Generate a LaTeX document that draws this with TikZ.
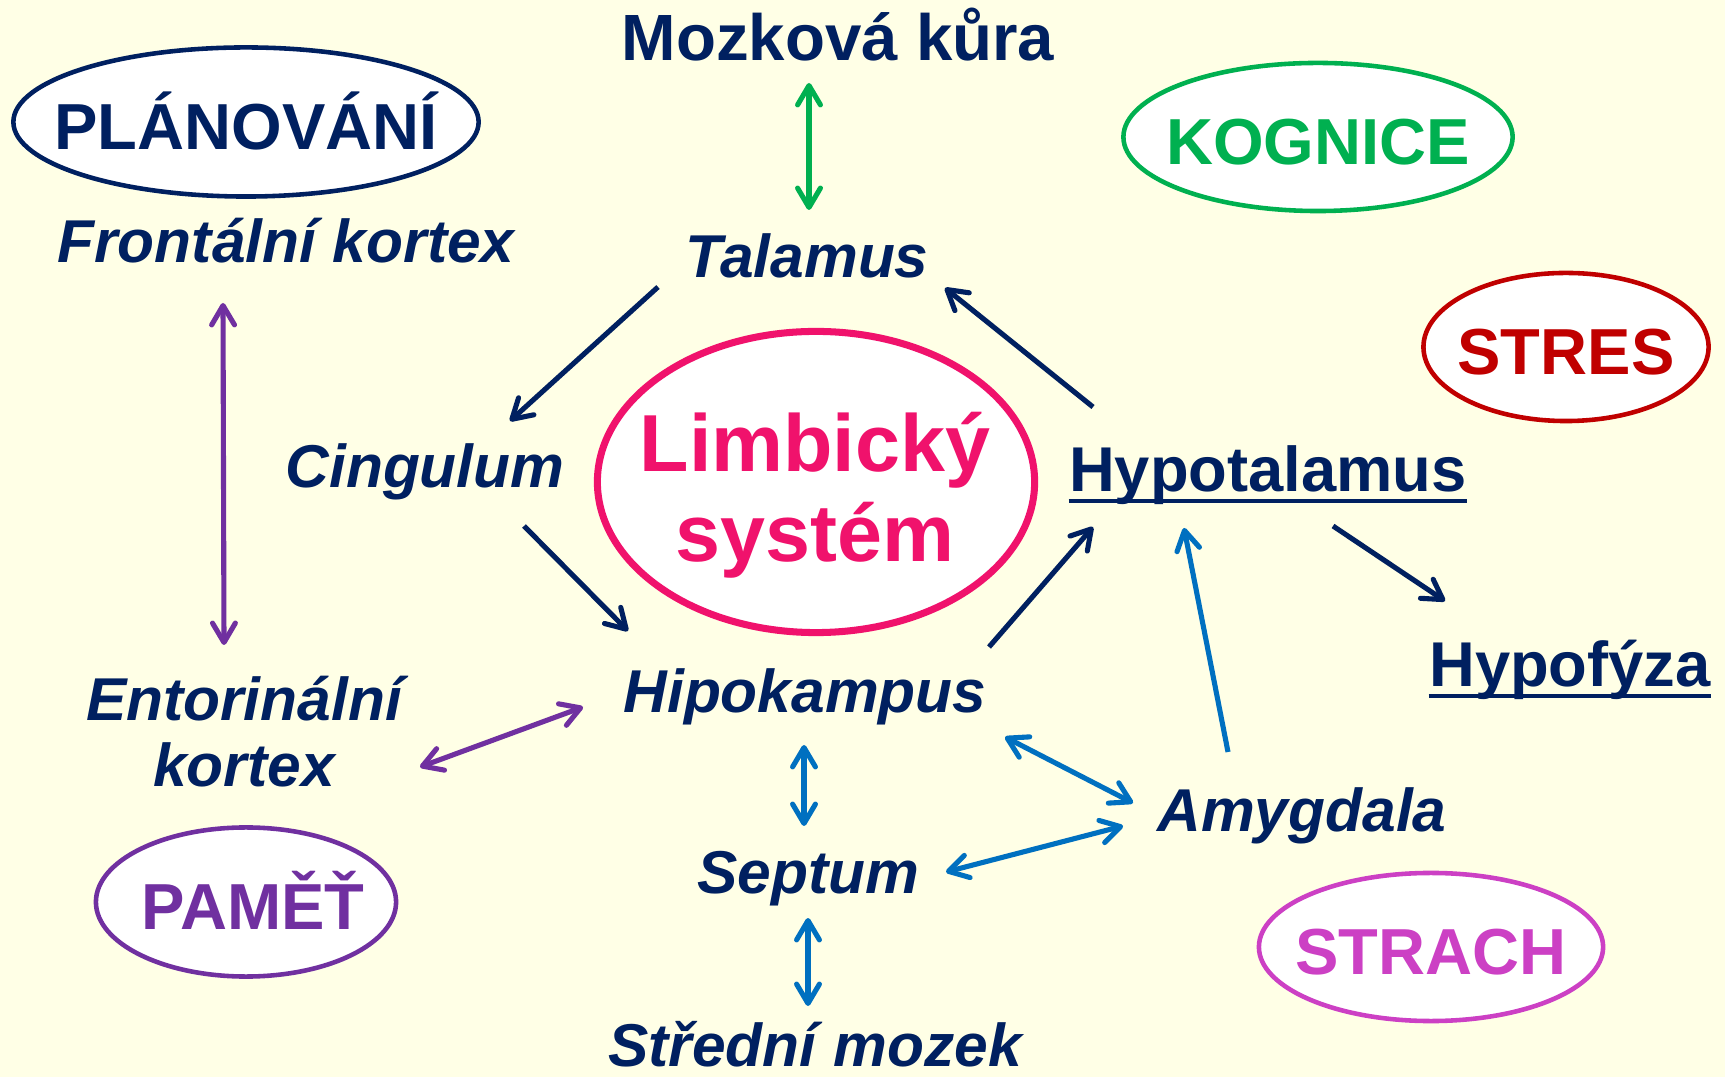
\documentclass[tikz,border=0pt]{standalone}
\usepackage{fontspec}
\setmainfont{Liberation Sans}
\usetikzlibrary{shapes.geometric,arrows.meta,calc}

\definecolor{paper}{RGB}{255,255,230}
\definecolor{navy}{RGB}{0,32,96}
\definecolor{leaf}{RGB}{0,176,80}
\definecolor{blood}{RGB}{192,0,0}
\definecolor{violet}{RGB}{112,48,160}
\definecolor{sky}{RGB}{0,112,192}
\definecolor{rose}{RGB}{240,18,108}
\definecolor{orchid}{RGB}{204,64,196}

% text of an oval, kept out of the oval's size
\newcommand{\tagtext}[1]{\makebox[0pt]{#1}}

\begin{document}
\begin{tikzpicture}[x=0.01cm, y=-0.01cm]

        \tikzstyle{plain} = [inner sep=0pt, anchor=base, text=navy, font=\fontsize{18.6}{22}\selectfont\bfseries]
        \tikzstyle{part} = [inner sep=0pt, anchor=base, text=navy, align=center, font=\fontsize{17.2}{18.8}\selectfont\bfseries\itshape]
        \tikzstyle{tag} = [ellipse, fill=white, line width=1.3pt, inner sep=0pt, text height=15.9pt, text depth=0pt, font=\fontsize{18.5}{22}\selectfont\bfseries]
        \tikzstyle{limbic} = [ellipse, draw=rose, fill=white, line width=2pt, minimum width=4.37cm, minimum height=3.01cm]
        \tikzstyle{limbtext} = [inner sep=0pt, anchor=base, text=rose, align=center, font=\fontsize{23}{25.6}\selectfont\bfseries]
        \tikzstyle{arrow} = [line width=1.45pt, >={Straight Barb[length=5.5pt,width=6.5pt,round]}]

        \fill[paper] (0,0) rectangle (1725,1077);
        \useasboundingbox (0,0) rectangle (1725,1077);

        % Ovals
        \node (plan) [tag, draw=navy, text=navy, minimum width=4.65cm, minimum height=1.49cm] at (246,122) {\tagtext{PLÁNOVÁNÍ}};
        \node (kogn) [tag, draw=leaf, text=leaf, minimum width=3.89cm, minimum height=1.48cm] at (1318,137) {\tagtext{KOGNICE}};
        \node (stres) [tag, draw=blood, text=blood, minimum width=2.85cm, minimum height=1.48cm] at (1566,347) {\tagtext{STRES}};
        \node (pamet) [tag, draw=violet, text=violet, minimum width=3.00cm, minimum height=1.49cm] at (246,902) {\tagtext{\hspace{4pt}PAMĚŤ}};
        \node (strach) [tag, draw=orchid, text=orchid, minimum width=3.44cm, minimum height=1.48cm] at (1431,947) {\tagtext{STRACH}};
        \node (limb) [limbic] at (816,482) {};
        % base of a two-line node is the last line
        \node (limbtxt) [limbtext] at (815,562) {Limbický\\systém};

        % Parts of the brain
        \node (kura) [plain] at (838,61) {Mozková kůra};
        \node (front) [part] at (286,263) {Frontální kortex};
        \node (tal) [part] at (807,278) {Talamus};
        \node (cing) [part] at (425,488) {Cingulum};
        \node (hypot) [plain, font=\fontsize{18}{22}\selectfont\bfseries] at (1268,492) {Hypotalamus};
        \node (hypof) [plain, font=\fontsize{18}{22}\selectfont\bfseries] at (1570,687) {Hypofýza};
        \node (hip) [part] at (805,713) {Hipokampus};
        \node (ent) [part] at (244,787) {Entorinální\\kortex};
        \node (amyg) [part] at (1302,832) {Amygdala};
        \node (sept) [part] at (808,893) {Septum};
        \node (stred) [part] at (815,1066) {Střední mozek};

        \draw[navy, line width=1.4pt] ($(hypot.base west)+(0,9)$) -- ($(hypot.base east)+(0,9)$);
        \draw[navy, line width=1.4pt] ($(hypof.base west)+(0,9)$) -- ($(hypof.base east)+(0,9)$);

        % Arrows
        \draw [arrow, leaf, <->] ($(kura.base)+(-29,22)$) -- ($(tal.base)+(2,-68)$);
        \draw [arrow, navy, ->] ($(tal.base)+(-149,9)$) -- ($(cing.base)+(85,-67)$);
        \draw [arrow, navy, ->] ($(hypot.base)+(-175,-85)$) -- ($(tal.base)+(138,10)$);
        \draw [arrow, navy, ->] ($(cing.base)+(99,38)$) -- ($(hip.base)+(-177,-82)$);
        \draw [arrow, navy, ->] ($(hip.base)+(184,-66)$) -- ($(hypot.base)+(-175,35)$);
        \draw [arrow, navy, ->] ($(hypot.base)+(65,34)$) -- ($(hypof.base)+(-125,-86)$);
        \draw [arrow, sky, ->] ($(amyg.base)+(-74,-80)$) -- ($(hypot.base)+(-84,36)$);
        \draw [arrow, violet, <->] ($(front.base)+(-63,40)$) -- ($(ent.base)+(-20,-142)$);
        \draw [arrow, violet, <->] ($(ent.base)+(176,-20)$) -- ($(hip.base)+(-222,-6)$);
        \draw [arrow, sky, <->] ($(hip.base)+(-1,32)$) -- ($(sept.base)+(-4,-67)$);
        \draw [arrow, sky, <->] ($(hip.base)+(200,24)$) -- ($(amyg.base)+(-169,-29)$);
        \draw [arrow, sky, <->] ($(sept.base)+(138,-21)$) -- ($(amyg.base)+(-179,-6)$);
        \draw [arrow, sky, <->] ($(sept.base)+(0,25)$) -- ($(stred.base)+(-7,-60)$);

    \end{tikzpicture}
\end{document}
